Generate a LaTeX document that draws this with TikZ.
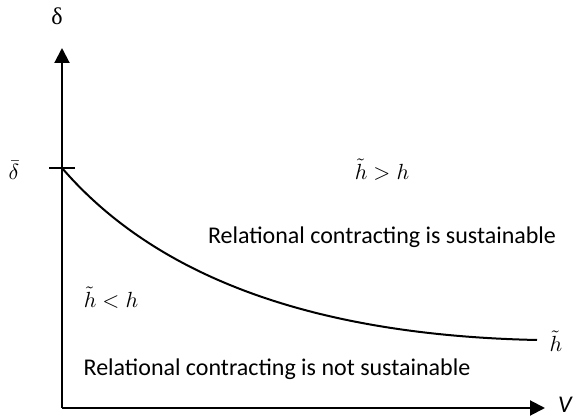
\documentclass[tikz,border=0pt]{standalone}
\usepackage{amsmath, amssymb}
\usepackage{fontspec}
\setmainfont{Carlito}
\newfontfamily\serifdelta{Liberation Serif}
\usepackage{tikz}
\usetikzlibrary{arrows, arrows.meta}
\newcommand{\htil}{\tilde{h}}

\begin{document}
\begin{tikzpicture}[x=0.5pt, y=-0.5pt, font=\fontsize{12}{14}\selectfont]
			\useasboundingbox (0,0) rectangle (573,416);
			
			\coordinate (O) at (62,408);
			\coordinate (ytip) at (62,48);
			\coordinate (xtip) at (545,408);
			\coordinate (tickL) at (49,168);
			\coordinate (tickR) at (75,168);
			\coordinate (cstart) at (62,168);
			\coordinate (cend) at (537,340);
			
			\node (delta) at (57,16) {\serifdelta δ};
			\node (V) at (565,405) {\itshape V};
			\node (dbar) at (14,170) {\fontsize{10.5}{12}\selectfont$\bar{\delta}$};
			\node (above) at (382,170) {\fontsize{10.5}{12}\selectfont$\htil > h$};
			\node (below) at (111,298) {\fontsize{10.5}{12}\selectfont$\htil < h$};
			\node (hcurve) at (556,341) {\fontsize{10.5}{12}\selectfont$\htil$};
			\node (sust) at (382,237) {Relational contracting is sustainable};
			\node (notsust) at (277,369) {Relational contracting is not sustainable};
			
			\draw[line width=1pt, -{Triangle[length=7.5pt,width=7.5pt]}] (O) -- (ytip);
			\draw[line width=1pt, -{Triangle[length=7.5pt,width=7.5pt]}] (O) -- (xtip);
			\draw[line width=0.8pt] (tickL) -- (tickR);
			\draw[line width=1pt] (cstart) .. controls (150,270) and (300,335) .. (cend);
		\end{tikzpicture}
\end{document}
